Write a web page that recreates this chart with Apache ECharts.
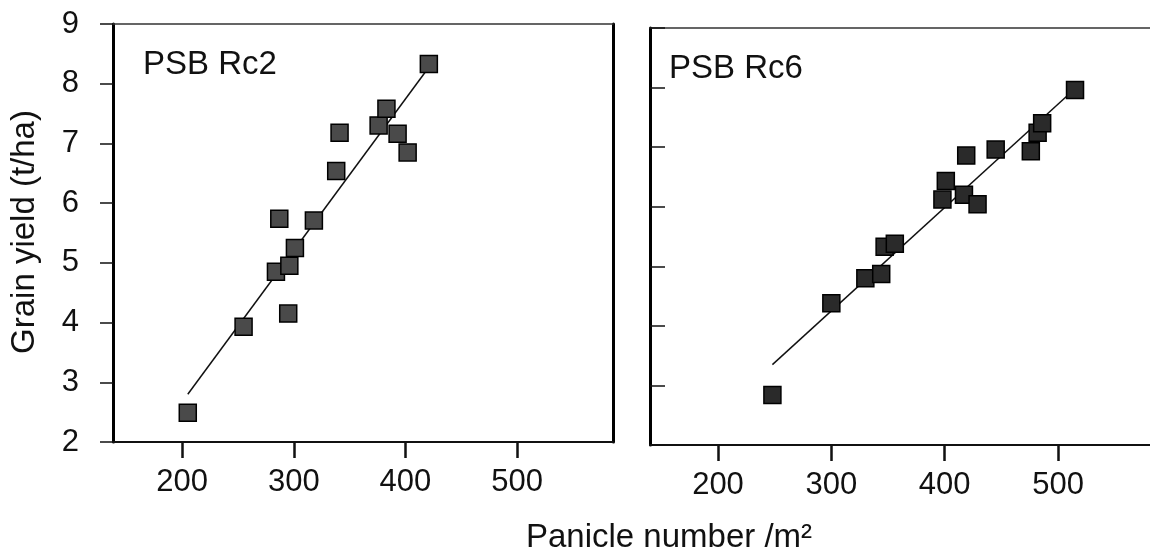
<!DOCTYPE html>
<html>
<head>
<meta charset="utf-8">
<script src="https://cdn.jsdelivr.net/npm/echarts@6/dist/echarts.min.js"></script>
<style>
  html, body { margin: 0; padding: 0; background: #fff; }
  #chart { width: 1150px; height: 558px; }
</style>
</head>
<body>
<div id="chart"></div>
<script>
// ---- Data ----
const xTickValues = [200, 300, 400, 500];
const yTickValues = [2, 3, 4, 5, 6, 7, 8, 9];

// PSB Rc2 (left panel)
const rc2Panicle = [205, 255, 284, 296, 295, 287, 301, 318, 338, 341, 376, 383, 393, 402, 421];
const rc2Yield   = [2.49, 3.93, 4.85, 4.95, 4.15, 5.74, 5.25, 5.71, 6.54, 7.18, 7.30, 7.58, 7.16, 6.85, 8.33];
const rc2LineX = [205, 420];
const rc2LineY = [2.8, 8.25];

// PSB Rc6 (right panel)
const rc6Panicle = [248, 300, 330, 344, 347, 356, 398, 401, 417, 429, 419, 445, 476, 482, 486, 515];
const rc6Yield   = [2.84, 4.38, 4.80, 4.87, 5.33, 5.38, 6.12, 6.43, 6.20, 6.04, 6.86, 6.96, 6.93, 7.24, 7.40, 7.96];
const rc6LineX = [248, 512];
const rc6LineY = [3.35, 7.93];

const panelNames = ['PSB Rc2', 'PSB Rc6'];
const xTitle = 'Panicle number /m²';
const yTitle = 'Grain yield (t/ha)';

// ---- Build chart ----
const FONT = "'Liberation Sans', Arial, sans-serif";
const zip = (a, b) => a.map((v, i) => [v, b[i]]);

const chart = echarts.init(document.getElementById('chart'), null, { renderer: 'canvas' });

function bottomX(gridIndex, min, max) {
  return {
    type: 'value', gridIndex, min, max, position: 'bottom',
    splitLine: { show: false },
    axisLine: { show: true, onZero: false, lineStyle: { color: '#111', width: 2 } },
    axisTick: { show: true, inside: false, length: 16, customValues: xTickValues,
                lineStyle: { color: '#111', width: 2.5 } },
    axisLabel: { show: true, customValues: xTickValues, margin: 25, fontSize: 31,
                 color: '#111', fontFamily: FONT }
  };
}
function topX(gridIndex, min, max) {
  return {
    type: 'value', gridIndex, min, max, position: 'top',
    splitLine: { show: false },
    axisLine: { show: true, onZero: false, lineStyle: { color: '#333', width: 1.5 } },
    axisTick: { show: false }, axisLabel: { show: false }
  };
}
function leftY(gridIndex, labels) {
  return {
    type: 'value', gridIndex, min: 2, max: 9, interval: 1, position: 'left',
    splitLine: { show: false },
    axisLine: { show: true, onZero: false, lineStyle: { color: '#000', width: 3 } },
    axisTick: { show: true, inside: !labels, length: labels ? 13 : 15,
                lineStyle: { color: '#111', width: 1.5 } },
    axisLabel: { show: labels, margin: 34, fontSize: 31, color: '#111', fontFamily: FONT }
  };
}
function rightY(gridIndex, visible) {
  return {
    type: 'value', gridIndex, min: 2, max: 9, position: 'right', show: visible,
    splitLine: { show: false },
    axisLine: { show: visible, onZero: false, lineStyle: { color: '#000', width: 3 } },
    axisTick: { show: false }, axisLabel: { show: false }
  };
}

const option = {
  backgroundColor: '#fff',
  animation: false,
  grid: [
    { left: 113, top: 24, width: 500, height: 418, outerBoundsMode: 'none', containLabel: false },
    { left: 650, top: 28, width: 505.5, height: 417, outerBoundsMode: 'none', containLabel: false }
  ],
  xAxis: [
    bottomX(0, 138, 586), topX(0, 138, 586),
    bottomX(1, 140, 586), topX(1, 140, 586)
  ],
  yAxis: [
    leftY(0, true), rightY(0, true),
    leftY(1, false), rightY(1, false)
  ],
  series: [
    { type: 'line', xAxisIndex: 0, yAxisIndex: 0, data: zip(rc2LineX, rc2LineY),
      showSymbol: false, symbol: 'none', lineStyle: { color: '#111', width: 1.5 }, z: 2 },
    { type: 'scatter', xAxisIndex: 0, yAxisIndex: 0, data: zip(rc2Panicle, rc2Yield),
      symbol: 'rect', symbolSize: 17,
      itemStyle: { color: '#4a4a4a', borderColor: '#000', borderWidth: 1.5, opacity: 1 }, z: 3 },
    { type: 'line', xAxisIndex: 2, yAxisIndex: 2, data: zip(rc6LineX, rc6LineY),
      showSymbol: false, symbol: 'none', lineStyle: { color: '#111', width: 1.5 }, z: 2 },
    { type: 'scatter', xAxisIndex: 2, yAxisIndex: 2, data: zip(rc6Panicle, rc6Yield),
      symbol: 'rect', symbolSize: 17,
      itemStyle: { color: '#2a2a2a', borderColor: '#000', borderWidth: 1.5, opacity: 1 }, z: 3 }
  ],
  graphic: [
    { type: 'text', left: 143, top: 48,
      style: { text: panelNames[0], fontSize: 33, fontFamily: FONT, fill: '#111' } },
    { type: 'text', left: 669, top: 52,
      style: { text: panelNames[1], fontSize: 33, fontFamily: FONT, fill: '#111' } },
    { type: 'text', x: 669, y: 538,
      style: { text: xTitle, fontSize: 33, fontFamily: FONT, fill: '#111',
               align: 'center', verticalAlign: 'middle' } },
    { type: 'text', x: 25, y: 232, rotation: Math.PI / 2,
      style: { text: yTitle, fontSize: 33, fontFamily: FONT, fill: '#111',
               align: 'center', verticalAlign: 'middle' } }
  ]
};
chart.setOption(option);
</script>
</body>
</html>
